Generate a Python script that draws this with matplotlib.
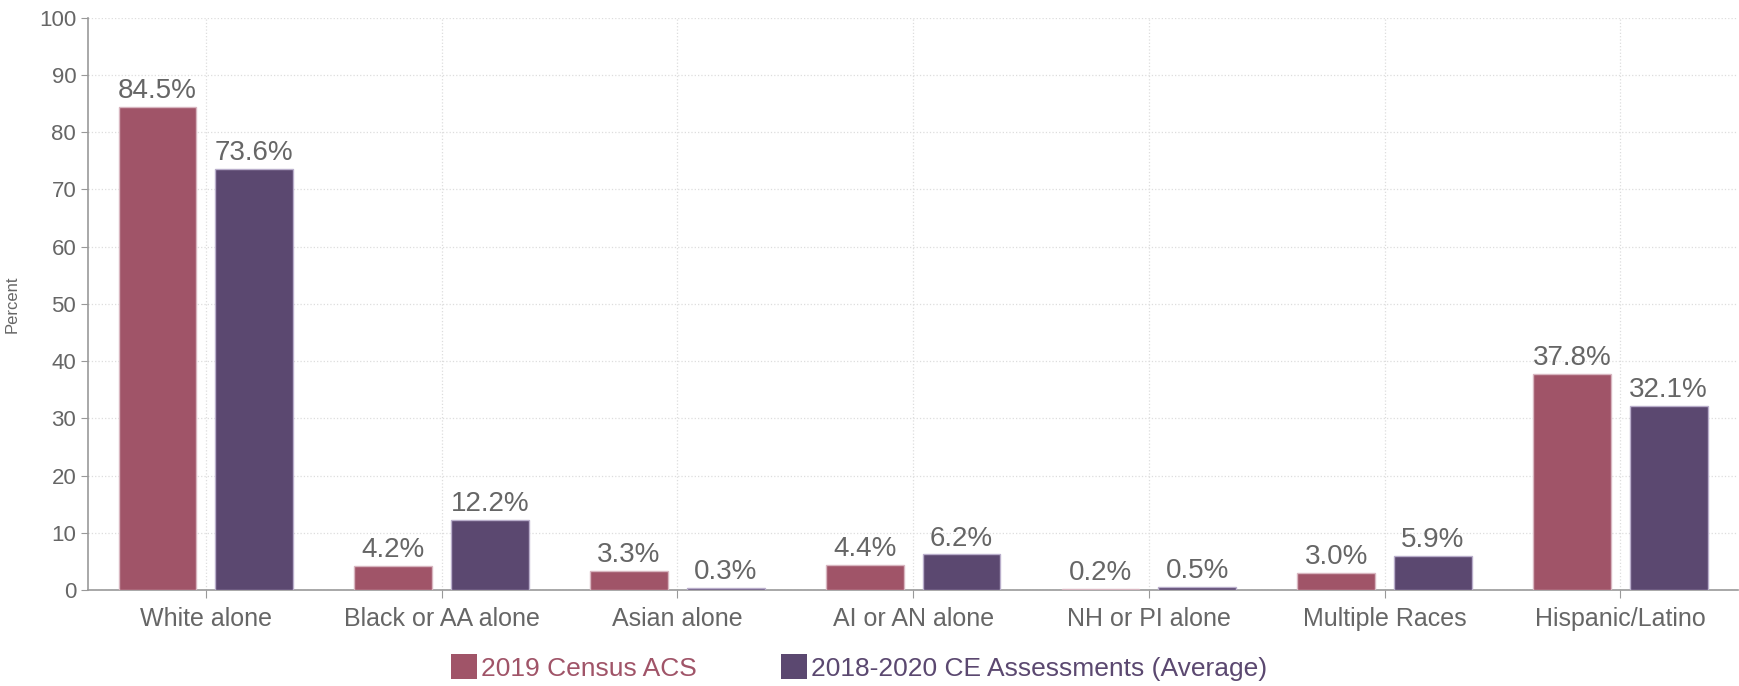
import numpy as np
import matplotlib
matplotlib.use("Agg")
import matplotlib.pyplot as plt
from matplotlib.patches import Patch

plt.rcParams['font.family'] = ['Liberation Sans', 'DejaVu Sans']

categories = ['White alone', 'Black or AA alone', 'Asian alone', 'AI or AN alone',
              'NH or PI alone', 'Multiple Races', 'Hispanic/Latino']
census = [84.5, 4.2, 3.3, 4.4, 0.2, 3.0, 37.8]
ce_avg = [73.6, 12.2, 0.3, 6.2, 0.5, 5.9, 32.1]
series_names = ['2019 Census ACS', '2018-2020 CE Assessments (Average)']

red = '#a05468'
purple = '#5b4870'
gray = '#666666'

fig = plt.figure(figsize=(17.39, 6.86), dpi=100)
ax = fig.add_axes([0.0506, 0.140, 0.949, 0.834])

x = np.arange(len(categories))
w = 0.33
off = 0.205
b1 = ax.bar(x - off, census, w, color=red, edgecolor='#d8b6c0', linewidth=1, zorder=3)
b2 = ax.bar(x + off, ce_avg, w, color=purple, edgecolor='#b9aecb', linewidth=1, zorder=3)

for bars, vals in [(b1, census), (b2, ce_avg)]:
    for r, v in zip(bars, vals):
        ax.text(r.get_x() + r.get_width() / 2, v + 0.5, f'{v:.1f}%',
                ha='center', va='bottom', fontsize=20, color=gray)

ax.set_xlim(-0.5, len(categories) - 0.5)
ax.set_ylim(0, 100)
ax.set_yticks(np.arange(0, 101, 10))
ax.set_xticks(x)
ax.set_xticklabels(categories, fontsize=18, color=gray)
ax.tick_params(axis='y', labelsize=16, colors=gray, length=5, color='#999999')
ax.tick_params(axis='x', length=6, color='#999999', pad=6)
ax.set_ylabel('Percent', fontsize=12, color=gray, labelpad=14)

ax.grid(True, linestyle=':', color='#dddddd', linewidth=0.9, zorder=0)
ax.set_axisbelow(True)
for s in ['top', 'right']:
    ax.spines[s].set_visible(False)
for s in ['left', 'bottom']:
    ax.spines[s].set_color('#999999')
    ax.spines[s].set_linewidth(1.2)

handles = [Patch(facecolor=red), Patch(facecolor=purple)]
leg = fig.legend(handles, series_names, loc='center', bbox_to_anchor=(0.494, 0.027),
                 ncol=2, frameon=False, fontsize=19, handlelength=1.0, handleheight=1.1,
                 handletextpad=0.15, columnspacing=3.2)
for t, c in zip(leg.get_texts(), [red, purple]):
    t.set_color(c)

fig.savefig('out.png', dpi=100)
